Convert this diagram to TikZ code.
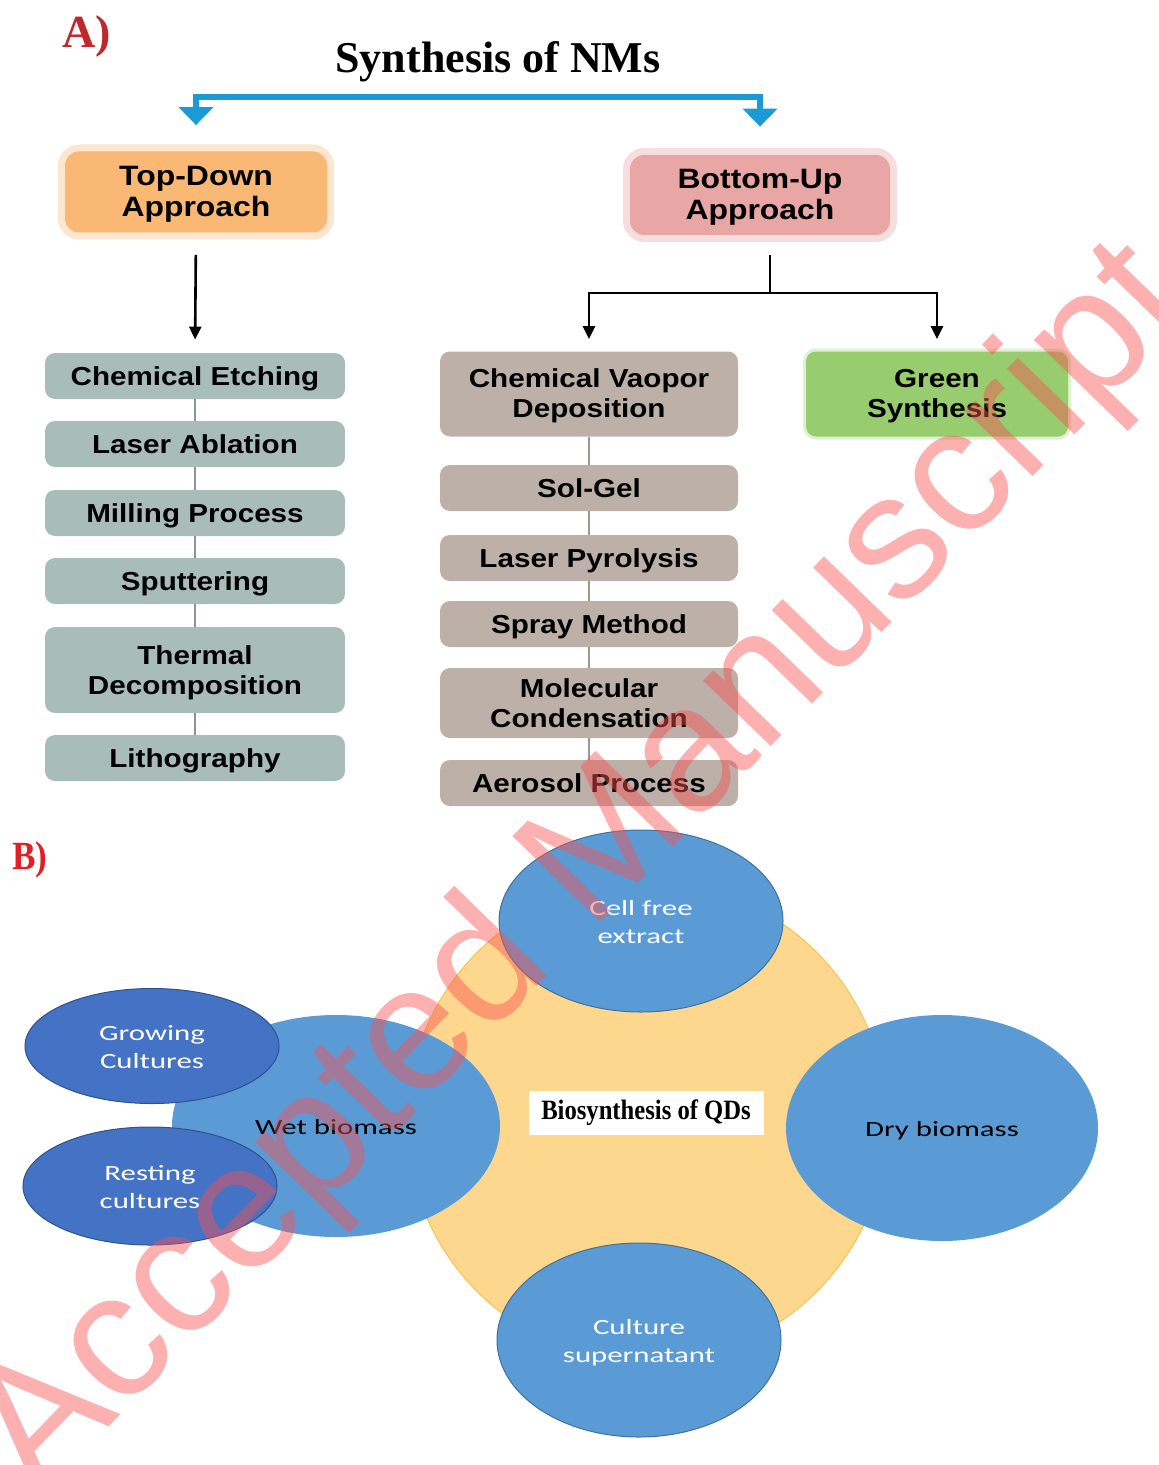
\documentclass[tikz,border=0pt]{standalone}
\usepackage{fontspec}
\usepackage{graphicx}
\setmainfont{Liberation Serif}
\newfontfamily\boxfont{Liberation Sans}
\newfontfamily\bubfont{Carlito}
\usetikzlibrary{arrows.meta,shapes.geometric}

\definecolor{tdorange}{HTML}{F9B874}
\definecolor{tdglow}{HTML}{FCE6CF}
\definecolor{bupink}{HTML}{E8A6A5}
\definecolor{buglow}{HTML}{F7DEDE}
\definecolor{tdgray}{HTML}{A8BDB7}
\definecolor{butaupe}{HTML}{BCB0A9}
\definecolor{grsyn}{HTML}{97CC6F}
\definecolor{grglow}{HTML}{DDF0CF}
\definecolor{nmblue}{HTML}{1B9AD6}
\definecolor{qdyellow}{HTML}{FDD78D}
\definecolor{qdedge}{HTML}{F8C24E}
\definecolor{cellblue}{HTML}{5B9BD5}
\definecolor{celledge}{HTML}{41719C}
\definecolor{cultblue}{HTML}{4472C4}
\definecolor{cultedge}{HTML}{2F528F}
\definecolor{panelred}{HTML}{C0282D}
\definecolor{panelredb}{HTML}{E41E25}
\definecolor{markpink}{HTML}{FA5050}

\newcommand{\wtxt}[2]{\raisebox{-1.5pt}[\height][\depth]{\scalebox{#1}[1]{\begin{tabular}{@{}c@{}}#2\end{tabular}}}}

\tikzset{
  appbox/.style={rounded corners=7pt, inner sep=0pt, minimum width=131pt, minimum height=40.5pt,
    font=\boxfont\bfseries\fontsize{14}{15.5}\selectfont},
  methbox/.style={rounded corners=5pt, inner sep=0pt, minimum height=23pt,
    font=\boxfont\bfseries\fontsize{13}{15}\selectfont},
  tdbox/.style={methbox, fill=tdgray, minimum width=150pt},
  bubox/.style={methbox, fill=butaupe, minimum width=149pt},
  nmarrow/.style={draw=nmblue, line width=3pt, {Triangle[width=17pt,length=9pt]}-{Triangle[width=17pt,length=9pt]}},
  blkline/.style={draw=black, line width=1.3pt},
  blkarrow/.style={blkline, -{Triangle[width=6pt,length=6.5pt]}},
  linkline/.style={line width=1pt},
  bubble/.style={ellipse, inner sep=0pt, fill=cellblue, draw=celledge, line width=0.5pt,
    font=\bubfont\fontsize{10.85}{14}\selectfont},
  cult/.style={bubble, fill=cultblue, draw=cultedge, text=white}
}

\begin{document}
\begin{tikzpicture}[x=0.5pt, y=-0.5pt]
\useasboundingbox (0,0) rectangle (1159,1465);

% ---- A) synthesis of NMs
\node[text=panelred, font=\bfseries\fontsize{23}{23}\selectfont] (labA) at (87,36) {A)};
\node[font=\bfseries\fontsize{22}{22}\selectfont] (title) at (498,62) {Synthesis of NMs};

\node[appbox, fill=tdorange, preaction={draw=tdglow, line width=7pt}] (td) at (196,192) {\wtxt{1.14}{Top-Down\\Approach}};
\node[appbox, fill=bupink, preaction={draw=buglow, line width=7pt}, minimum width=130pt, minimum height=40pt] (bu) at (760,195) {\wtxt{1.14}{Bottom-Up\\Approach}};

\coordinate (brk) at (476,97);
\draw[nmarrow, shorten <=13pt, shorten >=14pt] (td.north) |- (brk) -| (bu.north);

% top-down methods
\node[tdbox] (ce) at (195,376) {\wtxt{1.14}{Chemical Etching}};
\node[tdbox] (la) at (195,444) {\wtxt{1.14}{Laser Ablation}};
\node[tdbox] (mp) at (195,513) {\wtxt{1.14}{Milling Process}};
\node[tdbox] (sp) at (195,581) {\wtxt{1.14}{Sputtering}};
\node[tdbox, minimum height=43pt] (thd) at (195,670) {\wtxt{1.14}{Thermal\\Decomposition}};
\node[tdbox] (li) at (195,758) {\wtxt{1.14}{Lithography}};
\foreach \a/\b in {ce/la, la/mp, mp/sp, sp/thd, thd/li}
  \draw[linkline, draw=tdgray!80!black] (\a.south) -- (\b.north);

% bottom-up methods
\node[bubox, minimum height=42.5pt] (cvd) at (589,394) {\wtxt{1.14}{Chemical Vaopor\\Deposition}};
\node[bubox] (sg) at (589,488) {\wtxt{1.14}{Sol-Gel}};
\node[bubox] (lp) at (589,558) {\wtxt{1.14}{Laser Pyrolysis}};
\node[bubox] (sm) at (589,624) {\wtxt{1.14}{Spray Method}};
\node[bubox, minimum height=35pt] (mc) at (589,703) {\wtxt{1.14}{Molecular\\Condensation}};
\node[bubox] (ap) at (589,783) {\wtxt{1.14}{Aerosol Process}};
\foreach \a/\b in {cvd/sg, sg/lp, lp/sm, sm/mc, mc/ap}
  \draw[linkline, draw=butaupe!85!black] (\a.south) -- (\b.north);

\node[methbox, fill=grsyn, preaction={draw=grglow, line width=3pt}, minimum width=131pt, minimum height=42.5pt] (gs) at (937,394) {\wtxt{1.14}{Green\\Synthesis}};

\draw[blkarrow, shorten <=11pt, shorten >=6.5pt] (td.south) -- (ce.north);
\coordinate (fork) at (770,293);
\draw[blkline, shorten <=10pt] ([xshift=5pt]bu.south) -- (fork);
\draw[blkarrow, shorten >=6pt] (fork) -| (cvd.north);
\draw[blkarrow, shorten >=6pt] (fork) -| (gs.north);

% ---- B) biosynthesis of QDs
\node[text=panelredb, font=\bfseries\fontsize{20}{20}\selectfont] (labB) at (30,860) {\scalebox{0.88}[1]{B)}};

\node[circle, fill=qdyellow, draw=qdedge, line width=0.5pt, minimum size=240pt, inner sep=0pt] (qd) at (647,1122) {};
\node[fill=white, minimum width=117.5pt, minimum height=22pt, inner sep=0pt,
  font=\bfseries\fontsize{14}{14}\selectfont] (qdlab) at (646,1113) {\scalebox{0.88}[1]{Biosynthesis of QDs}};

\node[bubble, draw=none, minimum width=164pt, minimum height=111pt] (wet) at (336,1126) {\wtxt{1.42}{Wet biomass}};
\node[cult, minimum width=127pt, minimum height=57.5pt] (grow) at (152,1046) {\wtxt{1.42}{Growing\\Cultures}};
\node[cult, minimum width=127pt, minimum height=59pt] (rest) at (150,1186) {\wtxt{1.42}{Resting\\cultures}};
\node[bubble, text=white, minimum width=142pt, minimum height=91pt] (cfe) at (641,921) {\wtxt{1.42}{Cell free\\extract}};
\node[bubble, draw=none, minimum width=156pt, minimum height=113pt] (dry) at (942,1128) {\wtxt{1.42}{Dry biomass}};
\node[bubble, text=white, minimum width=142pt, minimum height=97pt] (sup) at (639,1340) {\wtxt{1.42}{Culture\\supernatant}};

% watermark
\node[text=markpink, opacity=0.45, rotate=45.8, font=\boxfont\fontsize{89}{89}\selectfont] (wm) at (585,872) {Accepted Manuscript};
\end{tikzpicture}
\end{document}
